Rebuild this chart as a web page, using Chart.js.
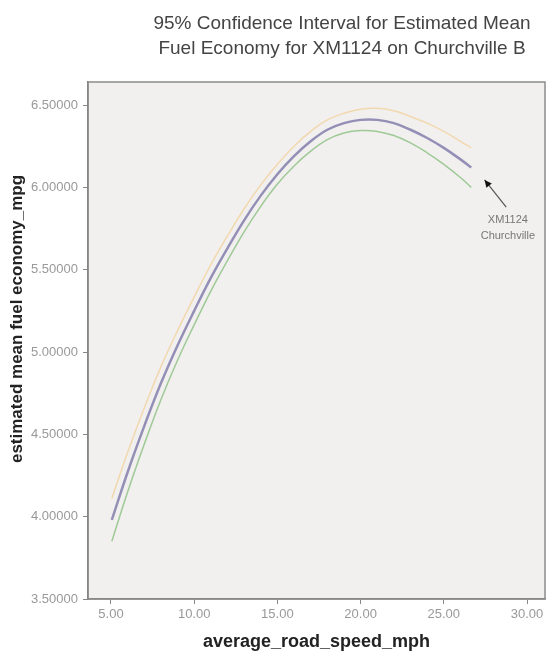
<!DOCTYPE html>
<html>
<head>
<meta charset="utf-8">
<script src="https://cdn.jsdelivr.net/npm/chart.js@4.4.1/dist/chart.umd.min.js"></script>
<style>
  html, body { margin: 0; padding: 0; background: #fff; }
  #wrap { position: relative; width: 549px; height: 653px; }
  #chart { display: block; }
  #title {
    position: absolute; top: 10px; left: 142px; width: 400px;
    text-align: center; white-space: nowrap;
    font: 19px/25px "Liberation Sans", Arial, sans-serif; color: #444;
  }
</style>
</head>
<body>
<div id="wrap">
  <canvas id="chart" width="549" height="653"></canvas>
  <div id="title">95% Confidence Interval for Estimated Mean<br>Fuel Economy for XM1124 on Churchville B</div>
</div>
<script>
// values
const speeds   = [5.05, 6, 7, 8, 9, 10, 11, 12, 13, 14, 15, 16, 17, 18, 19, 20, 21, 22, 23, 24, 25, 26, 26.65];
const meanMpg  = [3.98, 4.27, 4.55, 4.81, 5.04, 5.25, 5.45, 5.63, 5.80, 5.95, 6.08, 6.19, 6.28, 6.35, 6.39, 6.41, 6.41, 6.39, 6.35, 6.30, 6.24, 6.17, 6.12];
const lowerMpg = [3.85, 4.15, 4.44, 4.71, 4.95, 5.165, 5.37, 5.555, 5.73, 5.885, 6.02, 6.13, 6.22, 6.29, 6.33, 6.345, 6.34, 6.315, 6.27, 6.21, 6.14, 6.06, 6.00];
const upperMpg = [4.11, 4.39, 4.66, 4.91, 5.13, 5.335, 5.53, 5.705, 5.87, 6.015, 6.14, 6.25, 6.34, 6.41, 6.45, 6.475, 6.48, 6.465, 6.43, 6.39, 6.34, 6.28, 6.24];
const xTicks = [5, 10, 15, 20, 25, 30];
const yTicks = [3.5, 4.0, 4.5, 5.0, 5.5, 6.0, 6.5];
const noteLines = ['XM1124', 'Churchville'];
const noteArrowTip = { x: 27.45, y: 6.045 };
const noteArrowTail = { x: 28.75, y: 5.88 };
const noteTextAt = { x: 28.85, y: 5.80 };

function toPoints(values) {
  return speeds.map(function (s, i) { return { x: s, y: values[i] }; });
}

const framePlugin = {
  id: 'frame',
  beforeDraw: function (chart) {
    const a = chart.chartArea;
    const ctx = chart.ctx;
    ctx.save();
    ctx.fillStyle = '#f1f0ee';
    ctx.fillRect(a.left, a.top, a.right - a.left, a.bottom - a.top);
    ctx.restore();
  },
  afterDraw: function (chart) {
    const a = chart.chartArea;
    const ctx = chart.ctx;
    const xs = chart.scales.x;
    const ys = chart.scales.y;
    ctx.save();
    ctx.strokeStyle = '#8c8c8c';
    ctx.lineWidth = 1.5;
    ctx.strokeRect(a.left, a.top, a.right - a.left, a.bottom - a.top);

    // y axis title
    ctx.fillStyle = '#222';
    ctx.font = 'bold 17px "Liberation Sans", Arial, sans-serif';
    ctx.textAlign = 'center';
    ctx.textBaseline = 'middle';
    ctx.translate(17, 319);
    ctx.rotate(-Math.PI / 2);
    ctx.fillText('estimated mean fuel economy_mpg', 0, 0);
    ctx.restore();

    // arrow note
    const tx = xs.getPixelForValue(noteArrowTip.x);
    const ty = ys.getPixelForValue(noteArrowTip.y);
    const bx = xs.getPixelForValue(noteArrowTail.x);
    const by = ys.getPixelForValue(noteArrowTail.y);
    const ang = Math.atan2(ty - by, tx - bx);
    ctx.save();
    ctx.strokeStyle = '#555';
    ctx.lineWidth = 1.2;
    ctx.beginPath();
    ctx.moveTo(bx, by);
    ctx.lineTo(tx, ty);
    ctx.stroke();
    ctx.fillStyle = '#111';
    ctx.beginPath();
    ctx.moveTo(tx, ty);
    ctx.lineTo(tx - 8 * Math.cos(ang - 0.45), ty - 8 * Math.sin(ang - 0.45));
    ctx.lineTo(tx - 8 * Math.cos(ang + 0.45), ty - 8 * Math.sin(ang + 0.45));
    ctx.closePath();
    ctx.fill();

    ctx.fillStyle = '#777';
    ctx.font = '11px "Liberation Sans", Arial, sans-serif';
    ctx.textAlign = 'center';
    ctx.textBaseline = 'middle';
    const lx = xs.getPixelForValue(noteTextAt.x);
    const ly = ys.getPixelForValue(noteTextAt.y);
    noteLines.forEach(function (line, i) {
      ctx.fillText(line, lx, ly + i * 16);
    });
    ctx.restore();
  }
};

new Chart(document.getElementById('chart'), {
  type: 'line',
  data: {
    datasets: [
      { label: 'upper', data: toPoints(upperMpg), borderColor: '#f2d8ae', borderWidth: 1.5, order: 3 },
      { label: 'lower', data: toPoints(lowerMpg), borderColor: '#9fc997', borderWidth: 1.5, order: 2 },
      { label: 'mean', data: toPoints(meanMpg), borderColor: '#948fb6', borderWidth: 2.5, order: 1 }
    ]
  },
  options: {
    responsive: false,
    animation: false,
    layout: { padding: { top: 82, right: 4, left: 0, bottom: 0 } },
    elements: {
      point: { radius: 0 },
      line: { tension: 0.4 }
    },
    plugins: {
      legend: { display: false },
      tooltip: { enabled: false }
    },
    scales: {
      x: {
        type: 'linear',
        min: 3.62,
        max: 31.08,
        afterBuildTicks: function (scale) {
          scale.ticks = xTicks.map(function (v) { return { value: v }; });
        },
        afterFit: function (scale) { scale.height = 54; },
        grid: { drawOnChartArea: false, drawTicks: true, tickLength: 5, color: '#888' },
        border: { display: true, color: '#777', width: 1.5 },
        ticks: {
          padding: 3,
          color: '#999',
          font: { family: '"Liberation Sans", Arial, sans-serif', size: 13 },
          maxRotation: 0,
          callback: function (v) { return Number(v).toFixed(2); }
        },
        title: {
          display: true,
          text: 'average_road_speed_mph',
          color: '#222',
          font: { family: '"Liberation Sans", Arial, sans-serif', size: 18, weight: 'bold' },
          padding: { top: 0, bottom: 0 }
        }
      },
      y: {
        min: 3.5,
        max: 6.64,
        afterBuildTicks: function (scale) {
          scale.ticks = yTicks.map(function (v) { return { value: v }; });
        },
        afterFit: function (scale) { scale.width = 88; },
        grid: { drawOnChartArea: false, drawTicks: true, tickLength: 5, color: '#888' },
        border: { display: true, color: '#777', width: 1.5 },
        ticks: {
          padding: 5,
          color: '#999',
          font: { family: '"Liberation Sans", Arial, sans-serif', size: 13 },
          callback: function (v) { return Number(v).toFixed(5); }
        }
      }
    }
  },
  plugins: [framePlugin]
});
</script>
</body>
</html>
